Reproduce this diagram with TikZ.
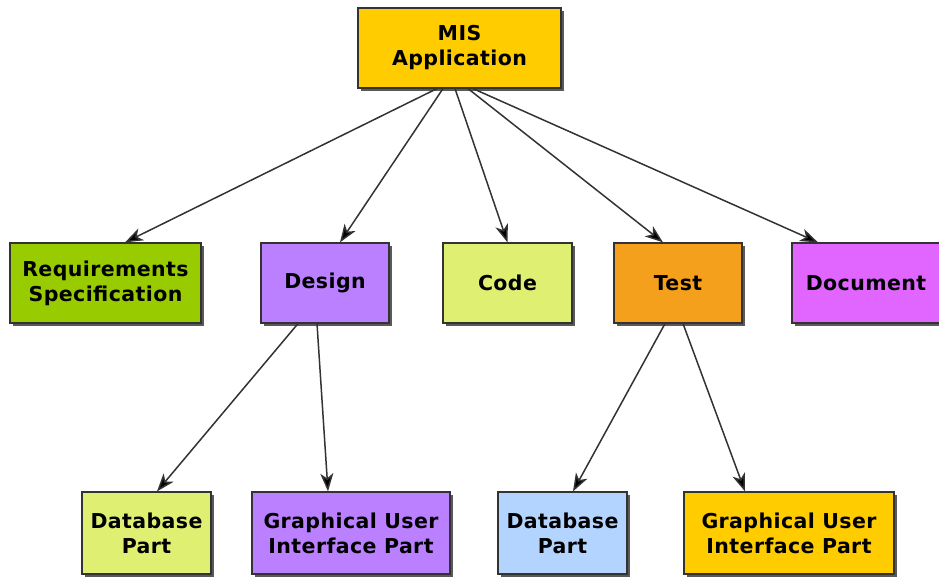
\documentclass[tikz,border=0pt]{standalone}
\usepackage{fontspec}
\setmainfont{DejaVu Sans}[LetterSpace=2]
\usetikzlibrary{arrows.meta,shadows}
\definecolor{cMIS}{HTML}{FFCC00}
\definecolor{cReq}{HTML}{99CC00}
\definecolor{cDes}{HTML}{BB80FF}
\definecolor{cCode}{HTML}{DEEF72}
\definecolor{cTest}{HTML}{F5A01C}
\definecolor{cDoc}{HTML}{E066FF}
\definecolor{cDB}{HTML}{B3D4FF}
\definecolor{cEdge}{HTML}{333333}
\tikzset{
  box/.style={draw=cEdge, line width=1.2pt, rectangle, align=center,
    font=\fontsize{20.5}{25}\selectfont\bfseries, inner sep=0pt,
    drop shadow={shadow xshift=3pt, shadow yshift=-3pt, fill=black!65, opacity=1}},
  link/.style={draw=cEdge, line width=1.5pt, -{Stealth[length=18pt,width=13pt,inset=5pt,fill=black]}}
}
\begin{document}
\begin{tikzpicture}[x=1pt,y=-1pt]
\useasboundingbox (0,0) rectangle (939,577);
\node[box, fill=cMIS, minimum width=203pt, minimum height=80pt] (mis) at (459.5,48) {MIS\\Application};
\node[box, fill=cReq, minimum width=191pt, minimum height=80pt] (req) at (105.5,283) {Requirements\\Specification};
\node[box, fill=cDes, minimum width=128pt, minimum height=80pt] (des) at (325,283) {Design};
\node[box, fill=cCode, minimum width=129pt, minimum height=80pt] (code) at (507.5,283) {Code};
\node[box, fill=cTest, minimum width=128pt, minimum height=80pt] (test) at (678,283) {Test};
\node[box, fill=cDoc, minimum width=148pt, minimum height=80pt] (doc) at (866,283) {Document};
\node[box, fill=cCode, minimum width=129pt, minimum height=82pt] (db1) at (146.5,533) {Database\\Part};
\node[box, fill=cDes, minimum width=198pt, minimum height=82pt] (gui1) at (351,533) {Graphical User\\Interface Part};
\node[box, fill=cDB, minimum width=129pt, minimum height=82pt] (db2) at (562.5,533) {Database\\Part};
\node[box, fill=cMIS, minimum width=210pt, minimum height=82pt] (gui2) at (789,533) {Graphical User\\Interface Part};
\draw[link] ([xshift=-22.5pt]mis.south) -- ([xshift=19.5pt]req.north);
\draw[link] ([xshift=-16.5pt]mis.south) -- ([xshift=15pt]des.north);
\draw[link] ([xshift=-4.5pt]mis.south) -- ([xshift=0pt]code.north);
\draw[link] ([xshift=8.5pt]mis.south) -- ([xshift=-15pt]test.north);
\draw[link] ([xshift=13.5pt]mis.south) -- ([xshift=-48pt]doc.north);
\draw[link] ([xshift=-27pt]des.south) -- ([xshift=10.5pt]db1.north);
\draw[link] ([xshift=-8pt]des.south) -- ([xshift=-23pt]gui1.north);
\draw[link] ([xshift=-13pt]test.south) -- ([xshift=10.5pt]db2.north);
\draw[link] ([xshift=5pt]test.south) -- ([xshift=-44pt]gui2.north);
\end{tikzpicture}
\end{document}
